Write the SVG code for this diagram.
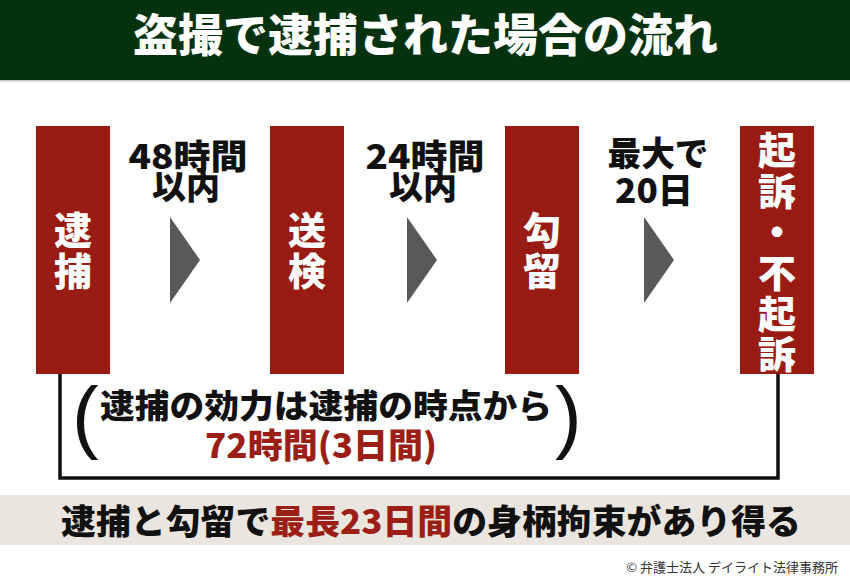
<svg xmlns="http://www.w3.org/2000/svg" width="850" height="581" viewBox="0 0 850 581">
<style>
.jp{font-family:"Noto Sans CJK JP","Noto Sans",sans-serif;font-weight:900}
.box{fill:#991c14}
.bt{fill:#ffffff;font-size:38px;text-anchor:middle}
.lb{fill:#111111;font-size:34px;text-anchor:middle}
.tri{fill:#595959}
.line{fill:none;stroke:#111111;stroke-width:3.5}
.red{fill:#9c1f17}
.par{font-family:"Liberation Sans",sans-serif;font-size:80px;fill:#111111}
</style>
<rect x="0" y="0" width="850" height="581" fill="#ffffff"/>
<g id="header">
<rect x="0" y="0" width="850" height="80" fill="#04320f"/>
<rect x="0" y="80" width="850" height="1.5" fill="#c8c8c8"/>
<text class="jp" x="133" y="52" font-size="45" fill="#ffffff" textLength="585" lengthAdjust="spacingAndGlyphs">盗撮で逮捕された場合の流れ</text>
</g>
<g id="connectors">
<polyline class="line" points="60,374 60,478 778,478 778,374"/>
<polygon class="tri" points="170,217 200,260 170,303"/>
<polygon class="tri" points="407,217 437,260 407,303"/>
<polygon class="tri" points="644,217 674,260 644,303"/>
</g>
<g id="node-taiho">
<rect class="box" x="36" y="126" width="74" height="248"/>
<text class="jp bt"><tspan x="73" y="244">逮</tspan><tspan x="73" y="285">捕</tspan></text>
</g>
<g id="node-souken">
<rect class="box" x="270" y="126" width="74" height="248"/>
<text class="jp bt"><tspan x="307" y="244">送</tspan><tspan x="307" y="285">検</tspan></text>
</g>
<g id="node-koryu">
<rect class="box" x="505" y="126" width="74" height="248"/>
<text class="jp bt"><tspan x="542" y="244">勾</tspan><tspan x="542" y="285">留</tspan></text>
</g>
<g id="node-kiso">
<rect class="box" x="740" y="126" width="74" height="248"/>
<text class="jp bt"><tspan x="777" y="164">起</tspan><tspan x="777" y="205">訴</tspan><tspan x="777" y="246">・</tspan><tspan x="777" y="287">不</tspan><tspan x="777" y="328">起</tspan><tspan x="777" y="368">訴</tspan></text>
</g>
<g id="label-48">
<text class="jp lb"><tspan x="188" y="169" textLength="119" lengthAdjust="spacingAndGlyphs">48時間</tspan><tspan x="186" y="199">以内</tspan></text>
</g>
<g id="label-24">
<text class="jp lb"><tspan x="425" y="169" textLength="119" lengthAdjust="spacingAndGlyphs">24時間</tspan><tspan x="423" y="199">以内</tspan></text>
</g>
<g id="label-20">
<text class="jp lb"><tspan x="658" y="166" textLength="101" lengthAdjust="spacingAndGlyphs">最大で</tspan><tspan x="654" y="203" textLength="78" lengthAdjust="spacingAndGlyphs">20日</tspan></text>
</g>
<g id="note">
<text class="par" x="72" y="443">(</text>
<text class="par" x="555" y="443">)</text>
<text class="jp" x="100" y="418" font-size="33" fill="#111111" textLength="452" lengthAdjust="spacingAndGlyphs">逮捕の効力は逮捕の時点から</text>
<text class="jp red" x="205" y="458" font-size="34" textLength="232" lengthAdjust="spacingAndGlyphs">72時間(3日間)</text>
</g>
<g id="summary">
<rect x="0" y="495" width="850" height="50" fill="#ebe5df"/>
<text class="jp" x="61" y="534" font-size="34" fill="#111111" textLength="740" lengthAdjust="spacingAndGlyphs">逮捕と勾留で<tspan class="red">最長23日間</tspan>の身柄拘束があり得る</text>
</g>
<text x="838" y="572" text-anchor="end" font-family="Noto Sans CJK JP, Noto Sans, sans-serif" font-size="13" fill="#333333">© 弁護士法人 デイライト法律事務所</text>
</svg>
